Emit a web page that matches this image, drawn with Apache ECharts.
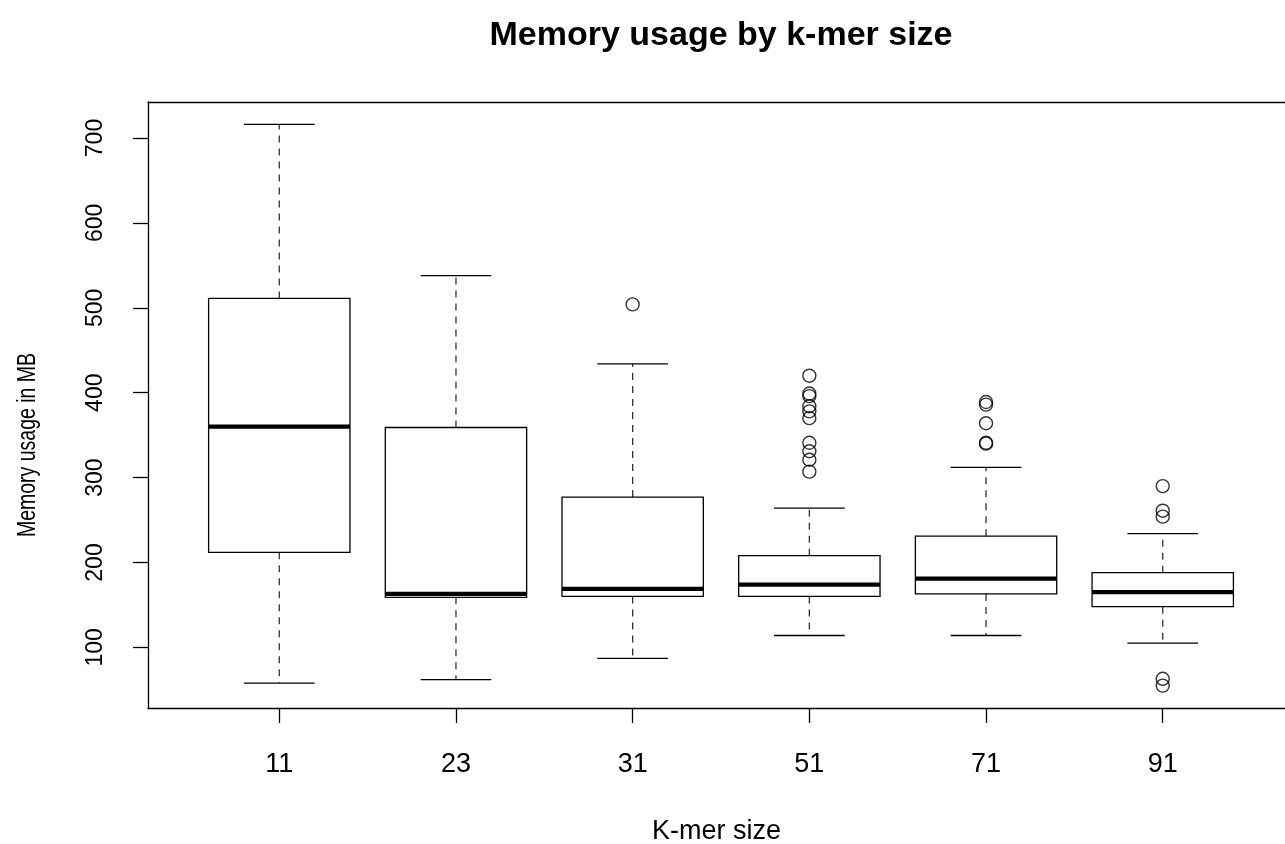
<!DOCTYPE html>
<html>
<head>
<meta charset="utf-8">
<title>Memory usage by k-mer size</title>
<script src="https://cdn.jsdelivr.net/npm/echarts@6/dist/echarts.min.js"></script>
<style>
  html, body { margin: 0; padding: 0; background: #fff; }
  #main { width: 1285px; height: 844px; }
</style>
</head>
<body>
<div id="main"></div>
<script>
// k-mer sizes (one box per size)
const categories = ['11', '23', '31', '51', '71', '91'];
// five-number summaries, MB
const mins    = [58, 62, 87, 114, 114, 105];
const q1s     = [212, 159, 160, 160, 163, 148];
const medians = [360, 163, 169, 174, 181, 165];
const q3s     = [511, 359, 277, 208, 231, 188];
const maxs    = [716, 538, 434, 264, 312, 234];
// outliers per k-mer size
const outliers11 = [];
const outliers23 = [];
const outliers31 = [504];
const outliers51 = [420, 399, 396, 384, 378, 370, 341, 331, 321, 307];
const outliers71 = [389, 386, 364, 341, 340];
const outliers91 = [290, 261, 254, 63, 55];
const yTicks = [100, 200, 300, 400, 500, 600, 700];

const font = 'Liberation Sans, Arial, sans-serif';
const outlierLists = [outliers11, outliers23, outliers31, outliers51, outliers71, outliers91];

let boxData = categories.map((c, i) => [i + 1, mins[i], q1s[i], medians[i], q3s[i], maxs[i]]);
let outlierData = [];
outlierLists.forEach((list, i) => {
  list.forEach(v => outlierData.push([i + 1, v]));
});

function renderBox(params, api) {
  let x = api.value(0);
  let pMin = api.coord([x, api.value(1)]);
  let pQ1 = api.coord([x, api.value(2)]);
  let pMed = api.coord([x, api.value(3)]);
  let pQ3 = api.coord([x, api.value(4)]);
  let pMax = api.coord([x, api.value(5)]);
  let hw = api.size([0.4, 0])[0];
  let cx = pMed[0];
  let solid = {stroke: '#000', lineWidth: 1.3};
  let dashed = {stroke: '#333', lineWidth: 1.3, lineDash: [7, 6]};
  return {
    type: 'group',
    children: [
      {type: 'line', shape: {x1: cx, y1: pQ3[1], x2: cx, y2: pMax[1]}, style: dashed},
      {type: 'line', shape: {x1: cx, y1: pQ1[1], x2: cx, y2: pMin[1]}, style: dashed},
      {type: 'line', shape: {x1: cx - hw / 2, y1: pMax[1], x2: cx + hw / 2, y2: pMax[1]}, style: solid},
      {type: 'line', shape: {x1: cx - hw / 2, y1: pMin[1], x2: cx + hw / 2, y2: pMin[1]}, style: solid},
      {type: 'rect', shape: {x: cx - hw, y: pQ3[1], width: hw * 2, height: pQ1[1] - pQ3[1]},
        style: {fill: '#fff', stroke: '#000', lineWidth: 1.3}},
      {type: 'line', shape: {x1: cx - hw, y1: pMed[1], x2: cx + hw, y2: pMed[1]},
        style: {stroke: '#000', lineWidth: 4.3}}
    ]
  };
}

let frameLine = {show: true, onZero: false, lineStyle: {color: '#000', width: 1.3}};

let chart = echarts.init(document.getElementById('main'));
let option = {
  animation: false,
  backgroundColor: '#fff',
  title: {
    text: 'Memory usage by k-mer size',
    left: 716,
    top: 14,
    textAlign: 'center',
    textStyle: {fontFamily: font, fontSize: 34, fontWeight: 'bold', color: '#000'}
  },
  // y label sits a bit below the plot middle in the original, glyphs are squeezed along the text
  graphic: [{
    type: 'text',
    x: 28, y: 445,
    rotation: Math.PI / 2,
    scaleX: 0.78,
    style: {
      text: 'Memory usage in MB',
      font: '25px ' + font,
      fill: '#000',
      align: 'center',
      verticalAlign: 'middle'
    }
  }],
  grid: {left: 148, top: 102, right: 0, bottom: 136, show: false, outerBoundsMode: 'none'},
  xAxis: [{
    type: 'value',
    min: 0.257, max: 6.692,
    name: 'K-mer size',
    nameLocation: 'middle',
    nameGap: 110,
    nameTextStyle: {fontFamily: font, fontSize: 27, color: '#000'},
    axisLine: frameLine,
    splitLine: {show: false},
    axisTick: {show: true, length: 15, customValues: [1, 2, 3, 4, 5, 6], lineStyle: {color: '#000', width: 1.3}},
    axisLabel: {
      customValues: [1, 2, 3, 4, 5, 6],
      margin: 43,
      fontFamily: font, fontSize: 27, color: '#000',
      formatter: v => categories[Math.round(v) - 1]
    }
  }, {
    // top edge of the frame
    type: 'value',
    position: 'top',
    min: 0.257, max: 6.692,
    axisLine: frameLine,
    axisTick: {show: false},
    axisLabel: {show: false},
    splitLine: {show: false}
  }],
  yAxis: {
    type: 'value',
    min: 28.6, max: 742.4,
    axisLine: frameLine,
    splitLine: {show: false},
    axisTick: {show: true, length: 15, customValues: yTicks, lineStyle: {color: '#000', width: 1.3}},
    axisLabel: {
      customValues: yTicks,
      rotate: 90,
      margin: 41,
      fontFamily: font, fontSize: 23, color: '#000'
    }
  },
  series: [
    {
      name: 'boxes',
      type: 'custom',
      renderItem: renderBox,
      encode: {x: 0, y: [1, 2, 3, 4, 5]},
      data: boxData,
      z: 2
    },
    {
      name: 'outliers',
      type: 'scatter',
      symbol: 'circle',
      symbolSize: 13,
      itemStyle: {color: 'rgba(0,0,0,0)', borderColor: '#000', borderWidth: 1.4},
      data: outlierData,
      z: 3
    }
  ]
};
chart.setOption(option);
</script>
</body>
</html>
